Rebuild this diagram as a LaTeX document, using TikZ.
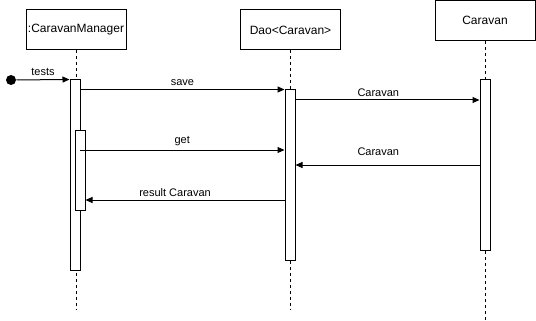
\documentclass[tikz,border=0pt]{standalone}
\usepackage{fontspec}
\setmainfont{Liberation Sans}
\usetikzlibrary{arrows.meta}
\begin{document}
\begin{tikzpicture}[x=1pt, y=-1pt, line width=1pt, >={Triangle[length=7pt,width=6pt]},
	obj/.style={draw, fill=white, minimum width=100pt, minimum height=40pt, inner sep=0pt, font=\fontsize{12}{14}\selectfont},
	actbar/.style={draw, fill=white, minimum width=10pt, inner sep=0pt},
	life/.style={dash pattern=on 3pt off 3pt},
	msg/.style={font=\fontsize{11}{13}\selectfont}]
\useasboundingbox (0,0) rectangle (536,321);

% objects and their lifelines
\node[obj] (mgr) at (76,30){:CaravanManager};
\node[obj] (dao) at (290.5,30){Dao<Caravan>};
\node[obj] (car) at (485,20.5){Caravan};
\coordinate (mgrEnd) at (75.5,310);
\coordinate (daoEnd) at (290.5,310);
\coordinate (carEnd) at (485,320);
\draw [life] (mgr.south) -- (mgr.south |- mgrEnd);
\draw [life] (dao.south) -- (dao.south |- daoEnd);
\draw [life] (car.south) -- (car.south |- carEnd);

% activations
\node[actbar, minimum height=190pt] (mgrAct) at (75,175){};
\node[actbar, minimum height=80pt] (mgrGet) at (80,170){};
\node[actbar, minimum height=170pt] (daoAct) at (290,175){};
\node[actbar, minimum height=170pt] (carAct) at (485,165){};

% messages
\node[circle, fill, inner sep=0pt, minimum size=10pt] (start) at (11,80){};
\draw [->] (start) -- (mgrAct.north west) node [midway, above, msg]{tests};
\draw [->] (mgrAct.east |- daoAct.north) -- (daoAct.north west) node [midway, above, msg]{save};
\draw [->] (daoAct.east |- 0,100) -- (carAct.west |- 0,100) node [pos=0.45, above, msg]{Caravan};
\draw [->] (mgrGet.center |- 0,150) -- (daoAct.west |- 0,150) node [midway, above, msg]{get};
\draw [->] (carAct.west |- 0,165) -- (daoAct.east |- 0,165) node [pos=0.55, above=6pt, msg]{Caravan};
\draw [->] (daoAct.west |- 0,200) -- (mgrGet.east |- 0,200) node [pos=0.55, above, msg]{result Caravan};

\end{tikzpicture}
\end{document}
